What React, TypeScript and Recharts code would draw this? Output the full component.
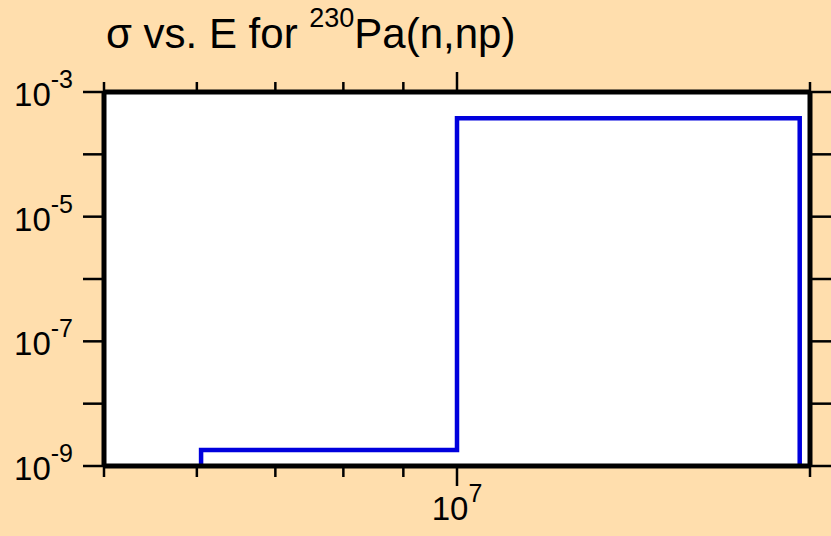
import { LineChart, Line, XAxis, YAxis, CartesianGrid } from 'recharts';

// energies (eV) and cross sections (b), drawn as a histogram step
const energy = [6.05e6, 6.05e6, 1e7, 1e7, 1.96e7, 1.96e7];
const sigma = [1e-9, 1.8e-9, 1.8e-9, 3.8e-4, 3.8e-4, 1e-9];

const xTicks = [5e6, 6e6, 7e6, 8e6, 9e6, 1e7, 2e7];
const yTicks = [1e-9, 1e-8, 1e-7, 1e-6, 1e-5, 1e-4, 1e-3];
const yLabelled = [-9, -7, -5, -3];

const data = energy.map((e, i) => ({ e, s: sigma[i] }));

const FONT = '"Liberation Sans", Arial, sans-serif';
const W = 831;
const H = 536;

function BottomTick({ x, y, payload }: any) {
  const major = payload.value === 1e7;
  return (
    <g>
      <line x1={x} x2={x} y1={y} y2={y + (major ? 20 : 11)} stroke="#000" strokeWidth={2.5} />
      {major && (
        <text x={x} y={y + 54} fontFamily={FONT} fontSize={33} textAnchor="middle" fill="#000">
          <tspan>10</tspan>
          <tspan fontSize={25} dy={-18}>7</tspan>
        </text>
      )}
    </g>
  );
}

function TopTick({ x, y, payload }: any) {
  const major = payload.value === 1e7;
  return <line x1={x} x2={x} y1={y} y2={y - (major ? 20 : 10)} stroke="#000" strokeWidth={2.5} />;
}

function LeftTick({ x, y, payload }: any) {
  const exp = Math.round(Math.log10(payload.value));
  return (
    <g>
      <line x1={x} x2={x - 21} y1={y} y2={y} stroke="#000" strokeWidth={2.5} />
      {yLabelled.includes(exp) && (
        <text x={x - 31} y={y + 14} fontFamily={FONT} fontSize={33} textAnchor="end" fill="#000">
          <tspan>10</tspan>
          <tspan fontSize={25} dy={-18}>{String(exp)}</tspan>
        </text>
      )}
    </g>
  );
}

function RightTick({ x, y }: any) {
  return <line x1={x} x2={x + 21} y1={y} y2={y} stroke="#000" strokeWidth={2.5} />;
}

export default function App() {
  return (
    <div style={{ position: 'absolute', left: 0, top: 0, width: W, height: H, background: '#FFDEAD' }}>
      <LineChart width={W} height={H} data={data} margin={{ top: 0, right: 0, bottom: 0, left: 0 }}>
        <CartesianGrid fill="#fff" horizontal={false} vertical={false} />
        <XAxis
          xAxisId="b"
          dataKey="e"
          type="number"
          scale="log"
          domain={[5e6, 2e7]}
          ticks={xTicks}
          allowDataOverflow
          height={70}
          tickSize={0}
          tickMargin={0}
          tickLine={false}
          interval={0}
          axisLine={{ stroke: '#000', strokeWidth: 5 }}
          tick={<BottomTick />}
        />
        <XAxis
          xAxisId="t"
          dataKey="e"
          type="number"
          scale="log"
          orientation="top"
          domain={[5e6, 2e7]}
          ticks={xTicks}
          allowDataOverflow
          height={92}
          tickSize={0}
          tickMargin={0}
          tickLine={false}
          interval={0}
          axisLine={{ stroke: '#000', strokeWidth: 5 }}
          tick={<TopTick />}
        />
        <YAxis
          yAxisId="l"
          type="number"
          scale="log"
          domain={[1e-9, 1e-3]}
          ticks={yTicks}
          allowDataOverflow
          width={104}
          tickSize={0}
          tickMargin={0}
          tickLine={false}
          interval={0}
          axisLine={{ stroke: '#000', strokeWidth: 5 }}
          tick={<LeftTick />}
        />
        <YAxis
          yAxisId="r"
          orientation="right"
          type="number"
          scale="log"
          domain={[1e-9, 1e-3]}
          ticks={yTicks}
          allowDataOverflow
          width={21}
          tickSize={0}
          tickMargin={0}
          tickLine={false}
          interval={0}
          axisLine={{ stroke: '#000', strokeWidth: 5 }}
          tick={<RightTick />}
        />
        <Line
          xAxisId="b"
          yAxisId="l"
          dataKey="s"
          type="linear"
          stroke="#0000dd"
          strokeWidth={4.5}
          dot={false}
          isAnimationActive={false}
        />
      </LineChart>
      <svg
        width={W}
        height={80}
        style={{ position: 'absolute', left: 0, top: 0, pointerEvents: 'none' }}
      >
        <text x={106} y={48} fontFamily={FONT} fontSize={42} fill="#000">
          <tspan>σ vs. E for </tspan>
          <tspan fontSize={27} dy={-21}>230</tspan>
          <tspan dy={21}>Pa(n,np)</tspan>
        </text>
      </svg>
    </div>
  );
}
